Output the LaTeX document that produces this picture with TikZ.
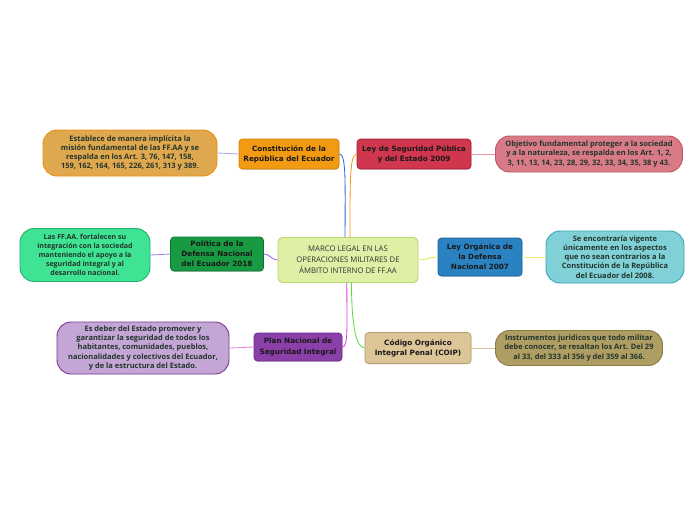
\documentclass[tikz,border=0pt]{standalone}
\usepackage{fontspec}
\setmainfont{Open Sans}
\newfontfamily\topicfont{DejaVu Sans}
\usetikzlibrary{shadows}

\definecolor{centrofill}{HTML}{DFF0A6}
\definecolor{centrodraw}{HTML}{B6D66E}
\definecolor{constfill}{HTML}{F29B12}
\definecolor{constdraw}{HTML}{D08000}
\definecolor{segfill}{HTML}{D0364E}
\definecolor{segdraw}{HTML}{A52035}
\definecolor{objfill}{HTML}{D87B87}
\definecolor{objdraw}{HTML}{C25766}
\definecolor{estfill}{HTML}{E0A84E}
\definecolor{estdraw}{HTML}{E88E10}
\definecolor{polfill}{HTML}{189A42}
\definecolor{poldraw}{HTML}{0F7232}
\definecolor{ffaafill}{HTML}{3EE393}
\definecolor{ffaadraw}{HTML}{1FB36E}
\definecolor{orgfill}{HTML}{2B82C2}
\definecolor{orgdraw}{HTML}{1B5F92}
\definecolor{encfill}{HTML}{80D0D8}
\definecolor{encdraw}{HTML}{3EA6B6}
\definecolor{planfill}{HTML}{8B40A9}
\definecolor{plandraw}{HTML}{6A2A88}
\definecolor{deberfill}{HTML}{C3A6D6}
\definecolor{deberdraw}{HTML}{7A3A92}
\definecolor{codfill}{HTML}{DCC597}
\definecolor{coddraw}{HTML}{B69E6C}
\definecolor{insfill}{HTML}{AE9E63}
\definecolor{insdraw}{HTML}{8C7C42}
\definecolor{leaftext}{HTML}{23352B}

\begin{document}
\begin{tikzpicture}[x=0.03cm,y=-0.03cm,
    topic/.style={rounded corners=3pt,line width=0.6pt,align=center,inner sep=0pt,
      font=\topicfont\bfseries\fontsize{6.2}{8.6}\selectfont,text=black!90,
      drop shadow={shadow xshift=0.4pt,shadow yshift=-0.8pt,opacity=0.3}},
    leaf/.style={rounded corners=12pt,line width=0.8pt,align=center,inner sep=0pt,
      font=\fontsize{6.4}{7.8}\selectfont\bfseries,text=leaftext},
    link/.style={line width=0.7pt}]
  \useasboundingbox[fill=white] (0,0) rectangle (696,520);

  \node[draw=centrodraw,fill=centrofill,rounded corners=4pt,line width=0.8pt,align=center,
        minimum width=140*0.03cm,minimum height=45*0.03cm,inner sep=0pt,
        font=\fontsize{6.6}{9.2}\selectfont,text=black!80] (centro) at (348,260)
        {MARCO LEGAL EN LAS\\OPERACIONES MILITARES DE\\ÁMBITO INTERNO DE FF.AA};

  \node[topic,draw=constdraw,fill=constfill,minimum width=100*0.03cm,minimum height=30*0.03cm]
        (const) at (289,154) {Constitución de la\\República del Ecuador};
  \node[topic,draw=segdraw,fill=segfill,minimum width=114*0.03cm,minimum height=30*0.03cm]
        (seg) at (414,154) {Ley de Seguridad Pública\\y del Estado 2009};
  \node[topic,draw=poldraw,fill=polfill,minimum width=93*0.03cm,minimum height=34*0.03cm]
        (pol) at (217,254) {Política de la\\Defensa Nacional\\del Ecuador 2018};
  \node[topic,draw=orgdraw,fill=orgfill,minimum width=84*0.03cm,minimum height=38*0.03cm]
        (org) at (480,257) {Ley Orgánica de\\la Defensa\\Nacional 2007};
  \node[topic,draw=plandraw,fill=planfill,minimum width=88*0.03cm,minimum height=28*0.03cm]
        (plan) at (298,347) {Plan Nacional de\\Seguridad Integral};
  \node[topic,draw=coddraw,fill=codfill,minimum width=106*0.03cm,minimum height=31*0.03cm]
        (cod) at (418,348) {Código Orgánico\\Integral Penal (COIP)};

  \node[leaf,draw=estdraw,fill=estfill,minimum width=174*0.03cm,minimum height=46*0.03cm]
        (est) at (130,153) {Establece de manera implícita la\\misión fundamental de las FF.AA y se\\respalda en los Art. 3, 76, 147, 158,\\159, 162, 164, 165, 226, 261, 313 y 389.};
  \node[leaf,draw=objdraw,fill=objfill,minimum width=187*0.03cm,minimum height=36*0.03cm]
        (obj) at (589,154) {Objetivo fundamental proteger a la sociedad\\y a la naturaleza, se respalda en los Art. 1, 2,\\3, 11, 13, 14, 23, 28, 29, 32, 33, 34, 35, 38 y 43.};
  \node[leaf,draw=ffaadraw,fill=ffaafill,minimum width=130*0.03cm,minimum height=53*0.03cm,
        font=\fontsize{6}{7.8}\selectfont\bfseries] (ffaa) at (85,255)
        {Las FF.AA. fortalecen su\\integración con la sociedad\\manteniendo el apoyo a la\\seguridad integral y al\\desarrollo nacional.};
  \node[leaf,draw=encdraw,fill=encfill,minimum width=138*0.03cm,minimum height=52*0.03cm]
        (enc) at (615,257) {Se encontraría vigente\\únicamente en los aspectos\\que no sean contrarios a la\\Constitución de la República\\del Ecuador del 2008.};
  \node[leaf,draw=deberdraw,fill=deberfill,minimum width=172*0.03cm,minimum height=52*0.03cm]
        (deber) at (143,348) {Es deber del Estado promover y\\garantizar la seguridad de todos los\\habitantes, comunidades, pueblos,\\nacionalidades y colectivos del Ecuador,\\y de la estructura del Estado.};
  \node[leaf,draw=insdraw,fill=insfill,minimum width=167*0.03cm,minimum height=35*0.03cm]
        (ins) at (579,348) {Instrumentos jurídicos que todo militar\\debe conocer, se resaltan los Art. Del 29\\al 33, del 333 al 356 y del 359 al 366.};

  \draw[link,color={rgb,255:red,50;green,100;blue,230}] (const.east) .. controls +(7,0) and +(0,-55) .. ([xshift=-2.5pt]centro.north);
  \draw[link,color={rgb,255:red,245;green,150;blue,30}] (seg.west) .. controls +(-7,0) and +(0,-55) .. ([xshift=1.7pt]centro.north);
  \draw[link,color={rgb,255:red,150;green,100;blue,230}] (centro.west) to[out=180,in=0] (pol.east);
  \draw[link,color={rgb,255:red,230;green,230;blue,80}] (centro.east) to[out=0,in=180] (org.west);
  \draw[link,color={rgb,255:red,225;green,60;blue,220}] ([xshift=-1pt]centro.south) .. controls +(0,45) and +(6,0) .. (plan.east);
  \draw[link,color={rgb,255:red,90;green,220;blue,60}] ([xshift=3pt]centro.south) .. controls +(0,45) and +(-8,0) .. (cod.west);

  \draw[link,color={rgb,255:red,165;green,170;blue,240}] (const.west) -- (est.east);
  \draw[link,color={rgb,255:red,230;green,150;blue,165}] (seg.east) -- (obj.west);
  \draw[link,color={rgb,255:red,165;green,130;blue,235}] (pol.west) -- (ffaa.east);
  \draw[link,color={rgb,255:red,235;green,235;blue,120}] (org.east) -- (enc.west);
  \draw[link,color={rgb,255:red,230;green,130;blue,215}] (plan.west) -- (deber.east);
  \draw[link,color={rgb,255:red,215;green,195;blue,145}] (cod.east) -- (ins.west);
\end{tikzpicture}
\end{document}
